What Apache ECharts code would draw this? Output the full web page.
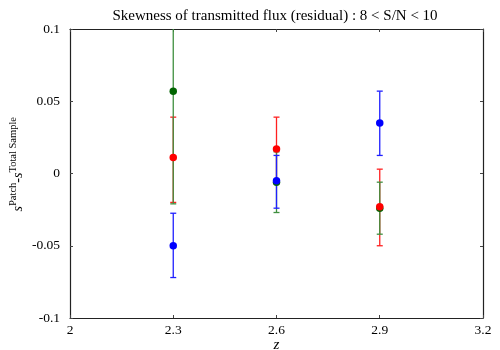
<!DOCTYPE html>
<html><head><meta charset="utf-8">
<script src="https://cdn.jsdelivr.net/npm/echarts@6/dist/echarts.min.js"></script>
<style>html,body{margin:0;padding:0;background:#fff}#c{width:500px;height:350px}</style>
</head><body><div id="c"></div>
<script>
const xTicks = [2, 2.3, 2.6, 2.9, 3.2];
const yTicks = [-0.1, -0.05, 0, 0.05, 0.1];
const zValues = [2.3, 2.6, 2.9];
// each series: central value, lower bound, upper bound
const redVal = [0.011, 0.017, -0.023];
const redLow = [-0.020, -0.006, -0.050];
const redHigh = [0.039, 0.039, 0.003];
const greenVal = [0.057, -0.006, -0.024];
const greenLow = [-0.021, -0.027, -0.042];
const greenHigh = [0.135, 0.015, -0.006];
const blueVal = [-0.050, -0.005, 0.035];
const blueLow = [-0.072, -0.024, 0.0125];
const blueHigh = [-0.0275, 0.0125, 0.057];

const FONT = 'Liberation Serif';
function errData(low, high) { return zValues.map((z, i) => [z, low[i], high[i]]); }
function ptData(v) { return zValues.map((z, i) => [z, v[i]]); }
function errSeries(low, high, color) {
  return {
    type: 'custom', clip: true, z: 2,
    data: errData(low, high),
    encode: { x: 0, y: [1, 2] },
    renderItem: function (params, api) {
      const x = api.value(0);
      const lo = api.coord([x, api.value(1)]);
      const hi = api.coord([x, api.value(2)]);
      const w = 3;
      const st = { stroke: color, lineWidth: 1.3 };
      return { type: 'group', children: [
        { type: 'line', shape: { x1: lo[0], y1: lo[1], x2: hi[0], y2: hi[1] }, style: st },
        { type: 'line', shape: { x1: lo[0] - w, y1: lo[1], x2: lo[0] + w, y2: lo[1] }, style: st },
        { type: 'line', shape: { x1: hi[0] - w, y1: hi[1], x2: hi[0] + w, y2: hi[1] }, style: st }
      ]};
    }
  };
}
function ptSeries(v, color, z) {
  return { type: 'scatter', data: ptData(v), symbol: 'circle', symbolSize: 7.5, z: z,
    itemStyle: { color: color, opacity: 1 }, emphasis: { disabled: true } };
}
const chart = echarts.init(document.getElementById('c'));
const axisCommon = {
  type: 'value',
  axisLine: { show: true, onZero: false, lineStyle: { color: '#222', width: 1.2 } },
  axisTick: { show: true, inside: true, length: 3, lineStyle: { color: '#444' } },
  splitLine: { show: false },
};
chart.setOption({
  animation: false,
  backgroundColor: '#fff',
  title: { text: 'Skewness of transmitted flux (residual) : 8 < S/N < 10', left: 270, top: 4, textAlign: 'center',
    textStyle: { fontFamily: FONT, fontSize: 15, fontWeight: 'normal', color: '#000' } },
  grid: { left: 70, right: 17, top: 29, bottom: 32, outerBoundsMode: 'none', containLabel: false },
  xAxis: [Object.assign({}, axisCommon, { min: 2, max: 3.2, interval: 0.3, position: 'bottom',
      axisLabel: { fontFamily: FONT, fontSize: 13.5, color: '#000', margin: 5, formatter: v => xTicks.find(t => Math.abs(t - v) < 1e-6) !== undefined ? String(+v.toFixed(1)) : '' },
      name: 'z', nameLocation: 'middle', nameGap: 20, nameMoveOverlap: false,
      nameTextStyle: { fontFamily: FONT, fontSize: 15, fontStyle: 'italic', color: '#000', verticalAlign: 'top' } }),
    Object.assign({}, axisCommon, { min: 2, max: 3.2, interval: 0.3, position: 'top', axisLabel: { show: false } })],
  yAxis: [Object.assign({}, axisCommon, { min: -0.1, max: 0.1, interval: 0.05, position: 'left',
      axisLabel: { fontFamily: FONT, fontSize: 13.5, color: '#000', margin: 10, formatter: v => { const t = yTicks.find(t => Math.abs(t - v) < 1e-9); return t === undefined ? '' : String(+t.toFixed(2)); } } }),
    Object.assign({}, axisCommon, { min: -0.1, max: 0.1, interval: 0.05, position: 'right', axisLabel: { show: false } })],
  graphic: [{
    type: 'text', left: 8, top: 117, rotation: Math.PI / 2,
    originX: 0, originY: 0,
    style: { text: '{b|s}{s|Patch}{b|-s}{s|Total Sample}', x: 0, y: 0,
      rich: { b: { fontFamily: FONT, fontSize: 14, fontStyle: 'italic', color: '#000', verticalAlign: 'bottom' },
              s: { fontFamily: FONT, fontSize: 10.5, color: '#000', padding: [0, 0, 6, 0], verticalAlign: 'bottom' } } }
  }],
  series: [
    errSeries(redLow, redHigh, '#ff2020'),
    errSeries(greenLow, greenHigh, '#3f8f3f'),
    errSeries(blueLow, blueHigh, '#2020ff'),
    ptSeries(greenVal, '#006400', 5),
    ptSeries(redVal, '#ff0000', 6),
    ptSeries(blueVal, '#0000ff', 7)
  ]
});
</script></body></html>
